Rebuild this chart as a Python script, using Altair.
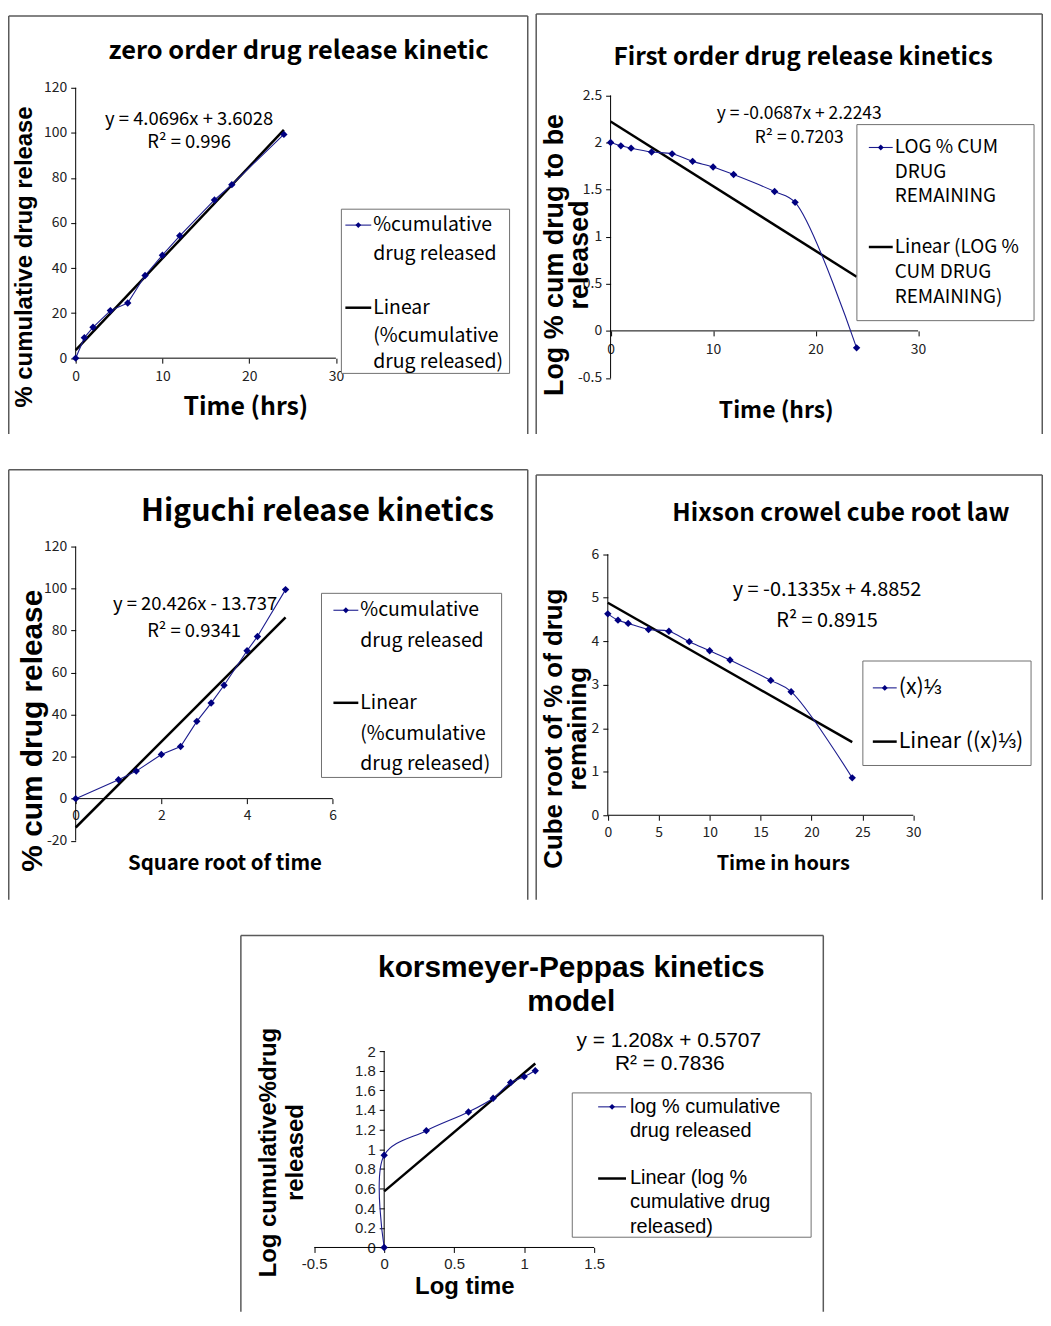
import altair as alt
import pandas as pd

NARROW = "Noto Sans CJK SC, Liberation Sans Narrow, Arial Narrow, sans-serif"
ARIAL = "Liberation Sans, Arial, Helvetica, sans-serif"
BLUE = "#1c1c8e"
NAVY = "#000080"
FRAME = "#5a5a5a"
LEGBOX = "#707070"

# ---------------- data ----------------
t_hours = [0, 1, 2, 4, 6, 8, 10, 12, 16, 18, 24]
zero_cum = [0, 9.1, 13.7, 21.1, 24.5, 36.7, 45.7, 54.3, 70.2, 77.0, 99.3]
zero_fit_x = [0, 24]
zero_fit_y = [3.60, 101.27]

first_log_rem = [2.0, 1.965, 1.94, 1.90, 1.88, 1.80, 1.74, 1.66, 1.48, 1.365, -0.18]
first_fit_x = [0, 24]
first_fit_y = [2.224, 0.575]

sqrt_t = [0, 1, 1.414, 2, 2.449, 2.828, 3.162, 3.464, 4, 4.243, 4.899]
higuchi_cum = [0, 9.0, 13.1, 21.0, 24.8, 36.8, 45.5, 54.0, 70.4, 77.2, 99.5]
higuchi_fit_x = [0, 4.899]
higuchi_fit_y = [-13.74, 86.33]

hixson_cbrt = [4.63, 4.485, 4.41, 4.27, 4.23, 3.99, 3.78, 3.57, 3.10, 2.84, 0.86]
hixson_fit_x = [0, 24]
hixson_fit_y = [4.885, 1.681]

kp_log_t = [0, 0, 0.301, 0.602, 0.778, 0.903, 1.0, 1.079]
kp_log_cum = [0, 0.94, 1.19, 1.38, 1.52, 1.68, 1.74, 1.80]
kp_fit_x = [0, 1.079]
kp_fit_y = [0.571, 1.874]

ONE = pd.DataFrame({"k": [0]})


def lin_domain(v0, p0, v1, p1, lo, hi):
    k = (p1 - p0) / (v1 - v0)
    return [v0 + (lo - p0) / k, v0 + (hi - p0) / k]


def px_text(s, x, y, box, font, size, weight="normal", angle=0, align="center"):
    kw = dict(font=font, fontSize=size, fontWeight=weight, align=align,
              baseline="middle", color="black")
    if angle:
        kw["angle"] = angle
    return alt.Chart(ONE).mark_text(**kw).encode(
        x=alt.value(x - box[0]), y=alt.value(y - box[1]), text=alt.value(s))


def px_rule(x1, y1, x2, y2, box, color, width):
    return alt.Chart(ONE).mark_rule(color=color, strokeWidth=width).encode(
        x=alt.value(x1 - box[0]), y=alt.value(y1 - box[1]),
        x2=alt.value(x2 - box[0]), y2=alt.value(y2 - box[1]))


def panel(box, frame, xmap, ymap, xticks, yticks, xline, yline,
          xs_data, ys_data, fit_x, fit_y, interp, texts, legend,
          tick_font, tick_size, xpad, ypad):
    bx0, by0, bx1, by1 = box
    W, H = bx1 - bx0, by1 - by0
    xdom = lin_domain(*xmap, bx0, bx1)
    ydom = lin_domain(*ymap, by1, by0)
    xsc = alt.Scale(domain=xdom, nice=False, zero=False)
    ysc = alt.Scale(domain=ydom, nice=False, zero=False)
    kx = (xmap[3] - xmap[1]) / (xmap[2] - xmap[0])
    ky = (ymap[3] - ymap[1]) / (ymap[2] - ymap[0])
    x_axis_py = ymap[1] + (xline[2] - ymap[0]) * ky   # pixel y of x-axis line
    y_axis_px = xmap[1] + (yline[2] - xmap[0]) * kx   # pixel x of y-axis line

    def ax(orient, values, offset, pad):
        return alt.Axis(orient=orient, values=values, offset=offset, domain=False,
                        grid=False, ticks=True, tickSize=5, tickColor="black",
                        tickWidth=1, labelFont=tick_font, labelFontSize=tick_size,
                        labelColor="#222", labelPadding=pad, labelOverlap=False,
                        labelFlush=False, labelExpr="toString(datum.value)",
                        title=None)

    XA = ax("bottom", xticks, x_axis_py - by1, xpad)
    YA = ax("left", yticks, -(y_axis_px - bx0), ypad)

    def X(f):
        return alt.X(f, type="quantitative", scale=xsc, axis=XA)

    def Y(f):
        return alt.Y(f, type="quantitative", scale=ysc, axis=YA)

    df = pd.DataFrame({"x": xs_data, "y": ys_data, "i": list(range(len(xs_data)))})
    fdf = pd.DataFrame({"x": fit_x, "y": fit_y})
    adf = pd.DataFrame({"x": [xline[0], yline[2]], "x2": [xline[1], yline[2]],
                        "y": [xline[2], yline[0]], "y2": [xline[2], yline[1]]})

    layers = []
    fx0, fy0, fx1 = frame
    layers.append(px_rule(fx0, fy0, fx0, by1, box, FRAME, 1.5))
    layers.append(px_rule(fx0, fy0, fx1, fy0, box, FRAME, 1.5))
    layers.append(px_rule(fx1, fy0, fx1, by1, box, FRAME, 1.5))

    layers.append(alt.Chart(adf).mark_rule(color="black", strokeWidth=1).encode(
        x=X("x"), x2="x2:Q", y=Y("y"), y2="y2:Q"))

    layers.append(alt.Chart(fdf).mark_line(color="black", strokeWidth=2.5).encode(
        x=X("x"), y=Y("y")))

    layers.append(alt.Chart(df).mark_line(color=BLUE, strokeWidth=1.1, interpolate=interp).encode(
        x=X("x"), y=Y("y"), order="i:Q"))

    layers.append(alt.Chart(df).mark_point(shape="diamond", filled=True, size=55,
                                           color=NAVY, opacity=1).encode(
        x=X("x"), y=Y("y")))

    for t in texts:
        layers.append(px_text(t[0], t[1], t[2], box, *t[3:]))

    lb = legend["box"]
    layers.append(alt.Chart(ONE).mark_rect(fill="white", stroke=LEGBOX, strokeWidth=1).encode(
        x=alt.value(lb[0] - bx0), x2=alt.value(lb[2] - bx0),
        y=alt.value(lb[1] - by0), y2=alt.value(lb[3] - by0)))
    for kind, sx0, sx1, sy, tx, lines in legend["entries"]:
        if kind == "data":
            layers.append(px_rule(sx0, sy, sx1, sy, box, BLUE, 1.1))
            layers.append(alt.Chart(ONE).mark_point(shape="diamond", filled=True, size=34,
                                                    color=NAVY, opacity=1).encode(
                x=alt.value((sx0 + sx1) / 2 - bx0), y=alt.value(sy - by0)))
        else:
            layers.append(px_rule(sx0, sy, sx1, sy, box, "black", 2.5))
        for s, ly in lines:
            layers.append(px_text(s, tx, ly, box, legend["font"], legend["size"],
                                  "normal", 0, "left"))

    return alt.layer(*layers, data=ONE).properties(width=W, height=H)


RIGHT = 1048       # right edge of the right-hand panels (kept inside the window)
FR = RIGHT - 0.75  # their frame line

# ---------------- panel 1: zero order ----------------
B1 = (8, 10, 531, 433)
p1 = panel(
    B1, (8.75, 13, 530.25), (0, 76, 30, 337.5), (0, 356.7, 120, 85),
    [0, 10, 20, 30], [0, 20, 40, 60, 80, 100, 120],
    (0, 30, 0), (0, 120, 0),
    t_hours, zero_cum, zero_fit_x, zero_fit_y, "linear",
    [("zero order drug release kinetic", 300, 48, NARROW, 25.5, "bold"),
     ("% cumulative drug release", 25, 255, ARIAL, 24, "bold", 270),
     ("Time (hrs)", 247, 406, NARROW, 25, "bold"),
     ("y = 4.0696x + 3.6028", 190, 116, NARROW, 18.5),
     ("R\u00b2 = 0.996", 190, 140, NARROW, 18.5)],
    {"box": (343, 207, 512, 372), "font": NARROW, "size": 19.5,
     "entries": [("data", 347, 373, 223, 375, [("%cumulative", 223), ("drug released", 252)]),
                 ("fit", 347, 373, 306, 375, [("Linear", 306), ("(%cumulative", 334),
                                              ("drug released)", 361)])]},
    NARROW, 14, 6, 4)

# ---------------- panel 2: first order ----------------
B2 = (538, 10, RIGHT, 433)
p2 = panel(
    B2, (538.75, 10.75, FR), (0, 613.5, 30, 922.5), (0, 329.3, 2.5, 92.7),
    [0, 10, 20, 30], [-0.5, 0, 0.5, 1, 1.5, 2, 2.5],
    (0, 30, 0), (-0.5, 2.5, 0),
    t_hours, first_log_rem, first_fit_x, first_fit_y, "catmull-rom",
    [("First order drug release kinetics", 807, 55, NARROW, 24.5, "bold"),
     ("Log % cum drug to be", 558, 253, ARIAL, 27, "bold", 270),
     ("released", 583, 253, ARIAL, 27, "bold", 270),
     ("Time  (hrs)", 780, 410, NARROW, 23, "bold"),
     ("y = -0.0687x + 2.2243", 803, 111, NARROW, 17.5),
     ("R\u00b2 = 0.7203", 803, 135, NARROW, 17.5)],
    {"box": (861, 122, 1039, 319), "font": NARROW, "size": 19,
     "entries": [("data", 873, 897, 145, 899, [("LOG % CUM", 145), ("DRUG", 169.5),
                                               ("REMAINING", 194)]),
                 ("fit", 873, 897, 245, 899, [("Linear  (LOG %", 245), ("CUM DRUG", 270),
                                              ("REMAINING)", 295)])]},
    NARROW, 14, 7, 4)

# ---------------- panel 3: Higuchi ----------------
B3 = (8, 467, 531, 900)
p3 = panel(
    B3, (8.75, 467.75, 530.25), (0, 76, 6, 334.3), (0, 798.3, 120, 545),
    [0, 2, 4, 6], [-20, 0, 20, 40, 60, 80, 100, 120],
    (0, 6, 0), (-20, 120, 0),
    sqrt_t, higuchi_cum, higuchi_fit_x, higuchi_fit_y, "linear",
    [("Higuchi release kinetics", 319, 510, NARROW, 30.5, "bold"),
     ("% cum drug release", 33, 730, ARIAL, 30, "bold", 270),
     ("Square root of time", 226, 864, NARROW, 20.5, "bold"),
     ("y = 20.426x - 13.737", 196, 603, NARROW, 18.5),
     ("R\u00b2 = 0.9341", 195, 630, NARROW, 18.5)],
    {"box": (323, 592, 504, 777), "font": NARROW, "size": 19.5,
     "entries": [("data", 335, 360, 609, 362, [("%cumulative", 609), ("drug released", 640)]),
                 ("fit", 335, 360, 702, 362, [("Linear", 702), ("(%cumulative", 733),
                                              ("drug released)", 764)])]},
    NARROW, 14, 5, 4)

# ---------------- panel 4: Hixson-Crowell ----------------
B4 = (538, 467, RIGHT, 900)
p4 = panel(
    B4, (538.75, 473, FR), (0, 610.7, 30, 917.7), (0, 815, 6, 552.7),
    [0, 5, 10, 15, 20, 25, 30], [0, 1, 2, 3, 4, 5, 6],
    (0, 30, 0), (0, 6, 0),
    t_hours, hixson_cbrt, hixson_fit_x, hixson_fit_y, "catmull-rom",
    [("Hixson crowel cube root law", 845, 512, NARROW, 24.5, "bold"),
     ("Cube root of % of drug", 557, 728, ARIAL, 26, "bold", 270),
     ("remaining", 581, 728, ARIAL, 26, "bold", 270),
     ("Time in hours", 787, 864, NARROW, 20, "bold"),
     ("y = -0.1335x + 4.8852", 831, 589, NARROW, 20),
     ("R\u00b2 = 0.8915", 831, 620, NARROW, 20)],
    {"box": (867, 660, 1036, 765), "font": NARROW, "size": 21.5,
     "entries": [("data", 877, 901, 687, 903, [("(x)\u2153", 687)]),
                 ("fit", 877, 901, 741, 903, [("Linear ((x)\u2153)", 741)])]},
    NARROW, 14, 5, 4)

# ---------------- panel 5: Korsmeyer-Peppas ----------------
B5 = (8, 934, 828, 1313)
p5 = panel(
    B5, (242, 934.75, 827.25), (0, 386, 1, 526.7), (0, 1248.3, 2, 1051),
    [-0.5, 0, 0.5, 1, 1.5], [0, 0.2, 0.4, 0.6, 0.8, 1, 1.2, 1.4, 1.6, 1.8, 2],
    (-0.5, 1.5, 0), (0, 2, 0),
    kp_log_t, kp_log_cum, kp_fit_x, kp_fit_y, "catmull-rom",
    [("korsmeyer-Peppas kinetics", 574, 968, ARIAL, 30, "bold"),
     ("model", 574, 1002, ARIAL, 30, "bold"),
     ("Log cumulative%drug", 270, 1153, ARIAL, 24, "bold", 270),
     ("released", 297, 1153, ARIAL, 24, "bold", 270),
     ("Log time", 467, 1288, ARIAL, 24, "bold"),
     ("y = 1.208x + 0.5707", 672, 1041, ARIAL, 21),
     ("R\u00b2 = 0.7836", 673, 1064, ARIAL, 21)],
    {"box": (575, 1093, 815, 1238), "font": ARIAL, "size": 20,
     "entries": [("data", 601, 629, 1107, 633, [("log % cumulative", 1107),
                                                ("drug released", 1131)]),
                 ("fit", 601, 629, 1179, 633, [("Linear (log %", 1179),
                                               ("cumulative drug", 1203),
                                               ("released)", 1228)])]},
    ARIAL, 15, 4, 4)

row1 = alt.hconcat(p1, p2, spacing=7)
row2 = alt.hconcat(p3, p4, spacing=7)
chart = alt.vconcat(row1, row2, p5, spacing=34).properties(
    padding={"left": 0, "top": 2, "right": 0, "bottom": 0},
    background="white",
).configure_view(strokeWidth=0)

chart.save("out.html", embed_options={"renderer": "svg", "actions": False})
